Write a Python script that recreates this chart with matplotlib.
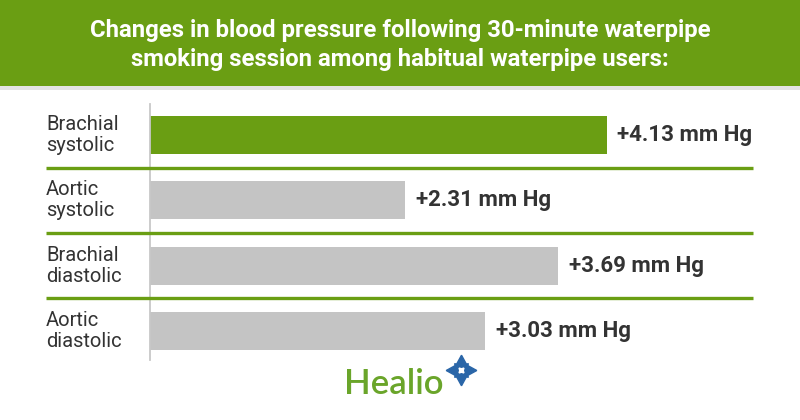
import matplotlib
matplotlib.use("Agg")
import matplotlib.pyplot as plt
import matplotlib.transforms as mtransforms
from matplotlib.patches import Rectangle

categories = ["Brachial\nsystolic", "Aortic\nsystolic", "Brachial\ndiastolic", "Aortic\ndiastolic"]
values = [4.13, 2.31, 3.69, 3.03]
value_labels = ["+4.13 mm Hg", "+2.31 mm Hg", "+3.69 mm Hg", "+3.03 mm Hg"]
title = "Changes in blood pressure following 30-minute waterpipe\nsmoking session among habitual waterpipe users:"

GREEN = "#6a9e13"
GREY = "#c4c4c4"
TEXT = "#333333"

W, H = 800, 420
fig = plt.figure(figsize=(8, 4.2), dpi=100)
fig.patch.set_facecolor("white")

def fx(px):
    return px / W

def fy(py):
    return 1 - py / H

# Header band
fig.add_artist(Rectangle((0, fy(86)), 1, 86 / H, transform=fig.transFigure,
                         facecolor=GREEN, edgecolor="none", zorder=0))
fig.add_artist(Rectangle((0, fy(90)), 1, 4 / H, transform=fig.transFigure,
                         facecolor="#e4e4e4", edgecolor="none", zorder=0))
fig.text(0.5, fy(45), title, ha="center", va="center", color="white",
         fontsize=17.2, fontweight="bold", linespacing=1.28,
         family=["Liberation Sans Narrow", "Roboto", "DejaVu Sans"])

# Main axes
px_per_unit = 110.6
xmax = 5.5
row = 65.33
ytop = -(135 - 104) / row
ybot = 3 + (360 - 331) / row
ax = fig.add_axes([fx(150), fy(360), xmax * px_per_unit / W, 256 / H])
ax.set_xlim(0, xmax)
ax.set_ylim(ybot, ytop)
ax.patch.set_alpha(0)

ypos = list(range(len(categories)))
colors = [GREEN] + [GREY] * (len(values) - 1)
ax.barh(ypos, values, height=0.58, color=colors, edgecolor="none", zorder=2)

for s in ["top", "right", "bottom"]:
    ax.spines[s].set_visible(False)
ax.spines["left"].set_color("#c8c8c8")
ax.spines["left"].set_linewidth(1.3)
ax.set_xticks([])
ax.set_yticks([])

blend = mtransforms.blended_transform_factory(fig.transFigure, ax.transData)
for y, cat in zip(ypos, categories):
    ax.text(fx(46), y, cat, transform=blend, ha="left", va="center",
            fontsize=14.5, color=TEXT, family=["Roboto", "DejaVu Sans"],
            linespacing=1.12)

for y, v, lab in zip(ypos, values, value_labels):
    ax.annotate(lab, (v, y), xytext=(7.5, 0), textcoords="offset points",
                ha="left", va="center", fontsize=16, fontweight="bold",
                color=TEXT, family=["Roboto", "DejaVu Sans"])

# Separators between rows
for y in ypos[:-1]:
    ax.plot([fx(46), fx(753)], [y + 0.5, y + 0.5], transform=blend,
            color=GREEN, lw=2.4, clip_on=False, zorder=3, solid_capstyle="butt")

# Logo
fig.text(fx(394), fy(384), "Healio", ha="center", va="center", color="#6aa52a",
         fontsize=25, fontweight="semibold", family=["Lato", "Open Sans", "DejaVu Sans"])
fig.add_artist(plt.Line2D([fx(461)], [fy(370)], marker=(4, 1, 0), markersize=22,
                          color="#2a66a8", transform=fig.transFigure))
fig.add_artist(plt.Line2D([fx(461)], [fy(370)], marker=(4, 1, 45), markersize=14,
                          color="#2a66a8", transform=fig.transFigure))
fig.add_artist(plt.Line2D([fx(461)], [fy(370)], marker=(4, 1, 45), markersize=5,
                          color="white", transform=fig.transFigure))

fig.savefig("out.png", dpi=100)
